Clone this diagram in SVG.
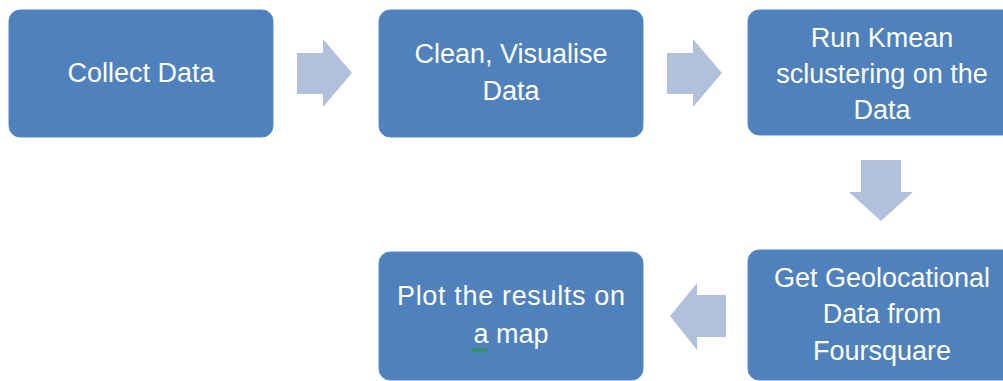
<svg xmlns="http://www.w3.org/2000/svg" width="1003" height="381" viewBox="0 0 1003 381">
  <style>
    .box { fill: #4F81BD; stroke: #5A8AC4; stroke-width: 1; }
    .lbl { font-family: "Liberation Sans", Arial, sans-serif; font-size: 27px; fill: #FFFFFF; text-anchor: middle; }
    .arrow { fill: #B1C1DC; }
  </style>
  <rect width="1003" height="381" fill="#FFFFFF"/>

  <g id="collect-data">
    <rect class="box" x="9" y="10" width="264" height="127" rx="11"/>
    <text class="lbl" x="141" y="82">Collect Data</text>
  </g>

  <g id="clean-visualise">
    <rect class="box" x="379" y="10" width="264" height="127" rx="11"/>
    <text class="lbl" x="511" y="63">Clean, Visualise</text>
    <text class="lbl" x="511" y="100">Data</text>
  </g>

  <g id="run-kmean">
    <rect class="box" x="748" y="10" width="268" height="125" rx="11"/>
    <text class="lbl" x="882" y="47">Run Kmean</text>
    <text class="lbl" x="882" y="83">sclustering on the</text>
    <text class="lbl" x="882" y="119">Data</text>
  </g>

  <g id="get-geolocational">
    <rect class="box" x="748" y="250" width="268" height="130" rx="11"/>
    <text class="lbl" x="882" y="287">Get Geolocational</text>
    <text class="lbl" x="882" y="323">Data from</text>
    <text class="lbl" x="882" y="360">Foursquare</text>
  </g>

  <g id="plot-results">
    <rect class="box" x="379" y="252" width="264" height="128" rx="11"/>
    <text class="lbl" x="511" y="305" textLength="228" lengthAdjust="spacing">Plot the results on</text>
    <text class="lbl" x="511" y="343">a map</text>
    <!-- spell-check squiggle under "a" -->
    <path d="M471,348.5 l2,3 l2,-3 l2,3 l2,-3 l2,3 l2,-3 l2,3 l2,-3" fill="none" stroke="#2A9A3A" stroke-width="1.4"/>
  </g>

  <g id="connectors">
    <polygon class="arrow" points="297,53 323,53 323,39 352,73 323,107 323,94 297,94"/>
    <polygon class="arrow" points="667,53 693,53 693,39 722,73 693,107 693,94 667,94"/>
    <polygon class="arrow" points="861,160 901,160 901,192 913,192 881,221 849,192 861,192"/>
    <polygon class="arrow" points="726,295 697,295 697,283 670,316 697,350 697,337 726,337"/>
  </g>
</svg>
